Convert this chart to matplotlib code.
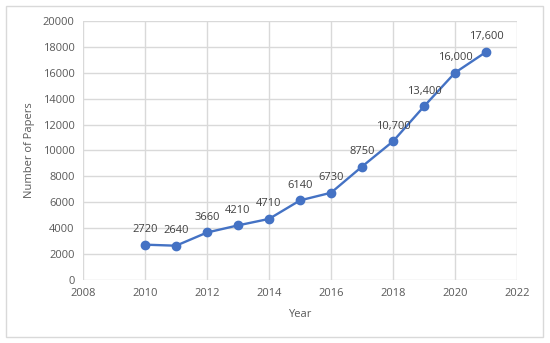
import matplotlib.pyplot as plt
from matplotlib.patches import Rectangle

years = [2010, 2011, 2012, 2013, 2014, 2015, 2016, 2017, 2018, 2019, 2020, 2021]
papers = [2720, 2640, 3660, 4210, 4710, 6140, 6730, 8750, 10700, 13400, 16000, 17600]
labels = ["2720", "2640", "3660", "4210", "4710", "6140", "6730", "8750",
          "10,700", "13,400", "16,000", "17,600"]

plt.rcParams['font.family'] = ['Open Sans', 'DejaVu Sans']
txt = '#595959'
grid = '#d9d9d9'
blue = '#4472c4'

fig = plt.figure(figsize=(5.5, 3.43), dpi=100)
ax = fig.add_axes([0.151, 0.184, 0.789, 0.755])

ax.plot(years, papers, color=blue, lw=1.7, marker='o', ms=6, zorder=3)
for x, y, s in zip(years, papers, labels):
    ax.annotate(s, (x, y), xytext=(0, 7), textcoords='offset points',
                ha='center', va='bottom', fontsize=8, color='#404040')

ax.set_xlim(2008, 2022)
ax.set_ylim(0, 20000)
ax.set_xticks(range(2008, 2023, 2))
ax.set_yticks(range(0, 20001, 2000))
ax.grid(True, color=grid, lw=1)
ax.set_axisbelow(True)
for sp in ax.spines.values():
    sp.set_visible(False)
ax.tick_params(length=0, labelsize=8, colors=txt, pad=6)
ax.set_xlabel('Year', fontsize=8, color=txt, labelpad=7)
ax.set_ylabel('Number of Papers', fontsize=8, color=txt, labelpad=6)

fig.patches.append(Rectangle((0.011, 0.017), 0.976, 0.965, transform=fig.transFigure,
                             fill=False, edgecolor=grid, lw=1))

fig.savefig('out.png', dpi=100)
